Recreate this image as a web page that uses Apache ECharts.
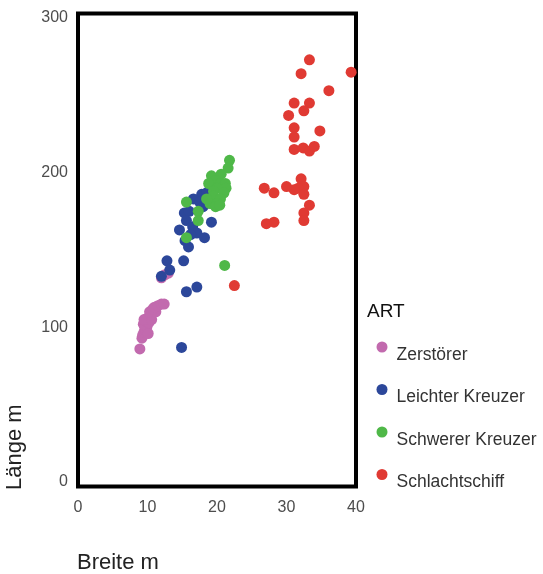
<!DOCTYPE html>
<html><head><meta charset="utf-8">
<script src="https://cdn.jsdelivr.net/npm/echarts@6/dist/echarts.min.js"></script>
<style>html,body{margin:0;padding:0;background:#fff}#c{width:543px;height:574px}</style>
</head><body><div id="c"></div>
<script>
var seriesNames = ['Zerstörer', 'Leichter Kreuzer', 'Schwerer Kreuzer', 'Schlachtschiff'];
var xTicks = [0, 10, 20, 30, 40];
var yTicks = [0, 100, 200, 300];
var zerstoerer = [[8.9,86],[9.2,93],[9.3,95],[9.5,97],[9.7,98],[9.6,100],[9.9,100],[10.1,96],[9.4,102],[9.8,104],[10.2,103],[10.0,106],[9.5,105],[10.6,105],[10.5,108],[10.3,110],[11.2,110],[10.8,112],[11.0,113],[11.5,114],[12.0,115],[12.4,115],[12.0,132],[12.5,134],[13.0,135]];
var leichter = [[17.8,186],[18.5,187],[19.3,186],[16.6,183],[17.5,181],[15.3,174],[16.0,175],[18.0,178],[15.6,169],[19.2,168],[16.5,165],[14.6,163],[17.1,161],[16.2,160],[18.2,158],[15.4,156],[15.9,152],[12.8,143],[15.2,143],[13.2,137],[12.0,133],[15.6,123],[17.1,126],[14.9,87]];
var schwerer = [[21.8,208],[21.6,203],[19.2,198],[20.6,199],[19.8,195],[18.8,193],[20.5,193],[21.2,193],[21.3,190],[20.0,190],[19.5,188],[21.0,187],[19.5,185],[20.5,183],[18.5,183],[19.0,180],[20.0,180],[15.6,181],[19.8,178],[20.4,179],[17.3,175],[17.3,169],[15.6,158],[21.1,140]];
var schlacht = [[33.3,273],[32.1,264],[39.3,265],[36.1,253],[31.1,245],[33.3,245],[32.5,240],[30.3,237],[31.1,229],[34.8,227],[31.1,223],[31.1,215],[32.4,216],[33.3,214],[34.0,217],[32.1,196],[32.5,191],[31.7,190],[31.1,189],[30.0,191],[32.5,186],[28.2,187],[26.8,190],[33.3,179],[32.5,174],[32.5,169],[28.2,168],[27.1,167],[22.5,127]];
var dataSets = [zerstoerer, leichter, schwerer, schlacht];
var colors = ['#c26aae', '#2c479a', '#4fb848', '#e03a33'];

var chart = echarts.init(document.getElementById('c'));
var font = 'Liberation Sans, Arial, sans-serif';
chart.setOption({
  animation: false,
  color: colors,
  title: { text: 'ART', left: 362, top: 297, textStyle: { fontFamily: font, fontSize: 19, fontWeight: 'normal', color: '#111' } },
  legend: {
    orient: 'vertical', left: 371.5, top: 336.5, itemGap: 20,
    icon: 'circle', itemWidth: 11, itemHeight: 11,
    formatter: '{a|{name}}',
    textStyle: { fontFamily: font, fontSize: 17.5, color: '#333',
      rich: { a: { fontFamily: font, fontSize: 17.5, color: '#333', padding: [16, 0, 0, 4] } } },
    data: seriesNames
  },
  grid: { left: 78, right: 187, top: 13.4, bottom: 87.4, show: true, borderColor: '#000', borderWidth: 4, backgroundColor: 'transparent' },
  xAxis: {
    type: 'value', min: 0, max: 40, interval: 10,
    axisLine: { show: false }, axisTick: { show: false }, splitLine: { show: false },
    axisLabel: { color: '#4d4d4d', fontFamily: font, fontSize: 16, margin: 13, formatter: function (v) { return xTicks.indexOf(v) >= 0 ? String(v) : ''; } }
  },
  yAxis: {
    type: 'value', min: -3, max: 303,
    axisLine: { show: false }, axisTick: { show: false }, splitLine: { show: false },
    axisLabel: { color: '#4d4d4d', fontFamily: font, fontSize: 16, margin: 10, customValues: yTicks }
  },
  graphic: [
    { type: 'text', left: 77, top: 552, style: { text: 'Breite m', font: '22px ' + font, fill: '#222' } },
    { type: 'text', x: 4, y: 490, rotation: Math.PI / 2, style: { text: 'Länge m', font: '22px ' + font, fill: '#222' } }
  ],
  series: seriesNames.map(function (n, i) {
    return { name: n, type: 'scatter', symbolSize: 11, data: dataSets[i], itemStyle: { color: colors[i], opacity: 1 } };
  })
});
</script></body></html>
